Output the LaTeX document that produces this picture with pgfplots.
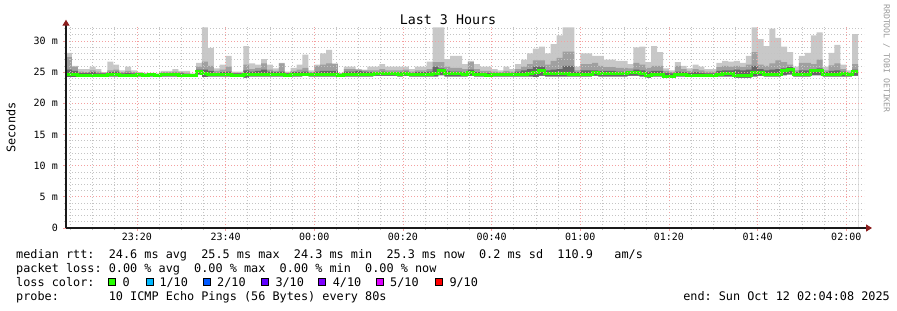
\documentclass[border=0pt]{standalone}
\usepackage{pgfplots}
\pgfplotsset{compat=1.18}
\usepackage{pgfplotstable}
\usepackage{fontspec}
\setmainfont{DejaVu Sans Mono}
\setmonofont{DejaVu Sans Mono}
\usetikzlibrary{arrows.meta}
\definecolor{smokeL}{HTML}{C8C8C8}
\definecolor{smokeM}{HTML}{A0A0A0}
\definecolor{smokeD}{HTML}{666666}
\definecolor{medgreen}{HTML}{26FF00}
\definecolor{mgrid}{HTML}{F4A0A0}
\definecolor{ngrid}{HTML}{C4C4C4}
\definecolor{arrowc}{HTML}{8C1E1E}
\definecolor{axisc}{HTML}{1A1A1A}
\definecolor{lossA}{HTML}{26FF00}
\definecolor{lossB}{HTML}{00B8FF}
\definecolor{lossC}{HTML}{0059FF}
\definecolor{lossD}{HTML}{5E00FF}
\definecolor{lossE}{HTML}{7E00FF}
\definecolor{lossF}{HTML}{DD00FF}
\definecolor{lossG}{HTML}{FF0000}
\newcommand\legfont{\fontsize{11.83bp}{14bp}\selectfont}
\newcommand\tickfont{\fontsize{10bp}{12bp}\selectfont}
\pgfplotstableread{
t mn med h3 h2 mx
0.00 24.2 24.7 25.4 27.4 28.1
1.33 24.2 24.6 25.2 25.9 26.0
2.67 24.2 24.5 24.9 25.1 25.5
4.00 24.2 24.5 24.9 25.0 25.5
5.33 24.2 24.5 25.0 25.3 25.9
6.67 24.3 24.5 24.8 25.1 25.5
8.00 24.3 24.5 24.8 24.9 25.0
9.33 24.3 24.6 25.0 25.3 26.7
10.67 24.3 24.6 25.1 25.4 26.2
12.00 24.2 24.4 24.8 25.0 25.3
13.33 24.3 24.5 24.9 25.2 25.9
14.67 24.3 24.5 24.8 25.0 25.3
16.00 24.3 24.6 24.8 24.9 25.0
17.33 24.2 24.5 24.7 24.8 24.9
18.67 24.3 24.6 24.7 24.8 24.9
20.00 24.3 24.5 24.6 24.7 24.8
21.33 24.3 24.6 24.8 25.0 25.2
22.67 24.3 24.6 24.8 25.0 25.2
24.00 24.3 24.6 24.9 25.1 25.5
25.33 24.3 24.5 24.8 25.0 25.2
26.67 24.3 24.5 24.7 24.9 25.2
28.00 24.3 24.5 24.6 24.7 24.8
29.33 24.6 25.1 25.4 25.9 26.5
30.67 24.2 24.8 25.4 26.7 32.2
32.00 24.3 24.7 25.2 26.0 28.9
33.33 24.3 24.6 24.9 25.2 25.6
34.67 24.3 24.6 25.0 25.4 26.2
36.00 24.3 24.6 25.1 25.9 27.6
37.33 24.2 24.5 24.8 24.9 25.1
38.67 24.2 24.5 24.8 24.9 25.1
40.00 24.1 24.6 25.3 26.2 29.2
41.33 24.3 24.6 25.1 25.5 26.4
42.67 24.3 24.7 25.2 25.7 26.2
44.00 24.3 24.7 25.4 26.4 27.1
45.33 24.3 24.6 25.1 25.4 26.2
46.67 24.3 24.6 25.0 25.2 25.6
48.00 24.3 24.6 25.1 26.4 26.5
49.33 24.2 24.5 24.8 24.9 25.1
50.67 24.3 24.6 25.0 25.2 25.7
52.00 24.3 24.6 25.0 25.4 26.2
53.33 24.4 24.7 25.1 25.7 27.8
54.67 24.3 24.6 24.9 25.0 25.3
56.00 24.3 24.6 25.1 26.0 26.2
57.33 24.3 24.6 25.2 26.2 28.0
58.67 24.3 24.6 25.2 26.4 28.6
60.00 24.3 24.6 25.2 26.3 26.4
61.33 24.2 24.5 24.7 24.8 24.9
62.67 24.3 24.7 25.1 25.5 25.9
64.00 24.3 24.7 25.1 25.5 25.9
65.33 24.3 24.6 25.2 25.4 25.5
66.67 24.3 24.6 25.1 25.3 25.4
68.00 24.3 24.6 25.0 25.3 25.9
69.33 24.4 24.8 25.0 25.3 25.9
70.67 24.4 24.8 25.1 25.5 26.3
72.00 24.4 24.8 25.0 25.3 25.9
73.33 24.4 24.8 25.0 25.3 25.9
74.67 24.3 24.6 25.0 25.3 25.9
76.00 24.4 24.8 25.1 25.4 25.9
77.33 24.3 24.6 24.9 25.1 25.5
78.67 24.3 24.6 25.0 25.3 25.9
80.00 24.3 24.6 25.0 25.3 25.9
81.33 24.3 24.6 25.1 25.5 26.7
82.67 24.3 24.8 25.9 26.6 32.2
84.00 24.5 25.3 25.6 26.6 32.2
85.33 24.3 24.8 25.2 25.9 27.1
86.67 24.3 24.8 25.1 25.7 27.6
88.00 24.3 24.8 25.1 25.7 27.6
89.33 24.3 24.7 25.0 25.5 26.3
90.67 24.4 24.9 25.4 26.6 26.8
92.00 24.3 24.6 25.0 25.5 26.3
93.33 24.3 24.6 24.9 25.2 25.9
94.67 24.2 24.5 24.9 25.2 25.9
96.00 24.3 24.6 24.9 25.1 25.5
97.33 24.3 24.6 24.8 25.0 25.3
98.67 24.3 24.6 24.9 25.2 25.9
100.00 24.3 24.6 24.9 25.1 25.5
101.33 24.3 24.6 25.1 25.5 26.3
102.67 24.3 24.7 25.3 25.9 27.0
104.00 24.3 24.8 25.5 26.3 28.0
105.33 24.2 24.9 25.9 26.9 28.8
106.67 24.4 25.3 25.9 26.9 29.1
108.00 24.3 24.8 25.3 26.2 28.0
109.33 24.3 24.8 25.4 26.8 29.5
110.67 24.3 24.8 25.5 27.3 30.9
112.00 24.3 24.8 26.0 28.3 32.2
113.33 24.3 24.7 26.0 28.3 32.2
114.67 24.3 24.6 25.0 25.3 25.9
116.00 24.3 24.7 25.3 26.3 28.0
117.33 24.3 24.7 25.3 26.3 28.0
118.67 24.4 25.0 25.3 26.5 27.6
120.00 24.3 24.8 25.2 26.0 27.6
121.33 24.3 24.8 25.2 25.8 27.0
122.67 24.3 24.8 25.2 25.8 27.0
124.00 24.3 24.8 25.1 25.7 26.8
125.33 24.3 24.8 25.1 25.7 26.8
126.67 24.4 24.9 25.1 25.6 26.3
128.00 24.4 25.0 25.4 26.5 29.0
129.33 24.3 24.8 25.3 26.2 29.1
130.67 24.1 24.4 25.1 25.7 26.6
132.00 24.3 24.6 25.2 26.0 29.2
133.33 24.3 24.6 25.2 26.0 28.2
134.67 24.1 24.3 24.9 25.2 25.6
136.00 24.1 24.3 24.8 25.0 25.3
137.33 24.3 24.6 25.1 26.0 26.6
138.67 24.3 24.6 25.0 25.5 26.0
140.00 24.2 24.4 24.9 25.2 25.6
141.33 24.2 24.4 25.0 25.5 26.2
142.67 24.2 24.4 24.9 25.3 25.9
144.00 24.2 24.4 24.8 25.1 25.5
145.33 24.2 24.4 24.8 25.1 25.5
146.67 24.3 24.6 25.2 25.8 26.5
148.00 24.3 24.8 25.3 26.0 26.8
149.33 24.3 24.8 25.3 25.9 26.7
150.67 24.1 24.4 25.4 26.0 26.8
152.00 24.1 24.4 25.3 25.8 26.5
153.33 24.1 24.4 25.4 26.2 27.6
154.67 24.3 24.9 26.0 28.2 32.2
156.00 24.4 25.0 25.5 26.2 30.3
157.33 24.3 24.6 25.3 26.0 29.2
158.67 24.3 24.6 25.4 26.4 32.0
160.00 24.3 24.6 25.5 26.9 30.5
161.33 24.5 25.2 25.6 26.6 29.1
162.67 24.6 25.5 25.8 26.2 28.2
164.00 24.3 24.6 25.0 25.3 25.9
165.33 24.3 24.6 25.3 26.5 27.6
166.67 24.3 24.6 25.3 26.5 28.1
168.00 24.5 25.2 25.5 26.3 30.9
169.33 24.5 25.2 25.6 27.0 31.4
170.67 24.3 24.6 25.0 25.3 25.9
172.00 24.3 24.6 25.2 26.1 28.1
173.33 24.3 24.6 25.3 26.4 29.4
174.67 24.3 24.8 25.1 25.5 26.2
176.00 24.3 24.6 24.8 25.0 25.3
177.33 24.4 25.1 25.4 26.3 31.1
178.67 24.4 25.1 25.4 26.3 31.1
}\smoke
\begin{document}
\begin{tikzpicture}[x=1bp,y=1bp]
\useasboundingbox (0,0) rectangle (897,310);
\begin{axis}[
  at={(66bp,82bp)}, anchor=south west,
  scale only axis, width=798bp, height=201.3bp,
  xmin=0, xmax=180, ymin=0, ymax=32.3,
  axis lines=left,
  axis on top,
  xtick={16,36,56,76,96,116,136,156,176},
  xticklabels={23:20,23:40,00:00,00:20,00:40,01:00,01:20,01:40,02:00},
  minor xtick={1,6,11,21,26,31,41,46,51,61,66,71,81,86,91,101,106,111,121,126,131,141,146,151,161,166,171},
  ytick={5,10,15,20,25,30},
  extra y ticks={0}, extra y tick labels={0},
  extra y tick style={grid=none},
  yticklabels={5 m,10 m,15 m,20 m,25 m,30 m},
  minor ytick={1,2,3,4,6,7,8,9,11,12,13,14,16,17,18,19,21,22,23,24,26,27,28,29,31,32},
  grid=both,
  major grid style={mgrid, line width=0.8bp, dash pattern=on 1bp off 2bp},
  minor grid style={ngrid, line width=0.8bp, dash pattern=on 1bp off 2bp},
  tick align=outside,
  major tick length=3bp, minor tick length=2bp,
  major tick style={mgrid, line width=0.8bp},
  minor tick style={ngrid, line width=0.8bp},
  axis line style={axisc, line width=1.2bp},
  x axis line style={-{Triangle[length=6bp,width=7bp,color=arrowc]}, shorten >=-8bp},
  y axis line style={-{Triangle[length=6bp,width=7bp,color=arrowc]}, shorten >=-7bp},
  tick label style={font=\tickfont, black},
  yticklabel style={anchor=east, inner sep=0pt, xshift=-5bp},
  xticklabel style={anchor=north, inner sep=0pt, yshift=-2bp},
]
\addplot[const plot mark left, fill=smokeL, draw=none] table[x=t,y=mx]{\smoke} \closedcycle;
\addplot[const plot mark left, fill=smokeM, draw=none] table[x=t,y=h2]{\smoke} \closedcycle;
\addplot[const plot mark left, fill=smokeD, draw=none] table[x=t,y=h3]{\smoke} \closedcycle;
\addplot[const plot mark left, fill=white, draw=none] table[x=t,y=mn]{\smoke} \closedcycle;
\addplot[const plot mark left, draw=medgreen, line width=3bp] table[x=t,y=med]{\smoke};
\end{axis}
% title and side texts
\node[anchor=base, inner sep=0pt, font=\fontsize{13.3bp}{15bp}\selectfont] at (448,285.5) {Last 3 Hours};
\node[rotate=90, inner sep=0pt, font=\legfont] at (11,182.5) {Seconds};
\node[rotate=-90, inner sep=0pt, font=\fontsize{8.2bp}{10bp}\selectfont, text=black!40] at (886.5,251.5) {RRDTOOL / TOBI OETIKER};
% legend
\node[anchor=base west, inner sep=0pt, font=\legfont] at (16,51.8) {median~rtt:~~24.6~ms~avg~~25.5~ms~max~~24.3~ms~min~~25.3~ms~now~~0.2~ms~sd~~110.9~~~am/s};
\node[anchor=base west, inner sep=0pt, font=\legfont] at (16,37.7) {packet~loss:~0.00~\%~avg~~0.00~\%~max~~0.00~\%~min~~0.00~\%~now};
\node[anchor=base west, inner sep=0pt, font=\legfont] at (16,23.6) {loss~color:};
\foreach \bx/\lx/\c/\t in {108/122.3/lossA/0, 145.7/159.3/lossB/1\slash 10, 203.3/217/lossC/2\slash 10, 261/275.3/lossD/3\slash 10, 318.3/332.6/lossE/4\slash 10, 376/390/lossF/5\slash 10, 435/449.3/lossG/9\slash 10}{
  \draw[black, fill=\c, line width=1bp] (\bx+0.5,24.5) rectangle (\bx+7.5,31.5);
  \node[anchor=base west, inner sep=0pt, font=\legfont] at (\lx,23.6) {\t};
}
\node[anchor=base west, inner sep=0pt, font=\legfont] at (16,9.5) {probe:~~~~~~~10~ICMP~Echo~Pings~(56~Bytes)~every~80s};
\node[anchor=base east, inner sep=0pt, font=\legfont] at (890,9.5) {end:~Sun~Oct~12~02:04:08~2025};
\end{tikzpicture}
\end{document}
